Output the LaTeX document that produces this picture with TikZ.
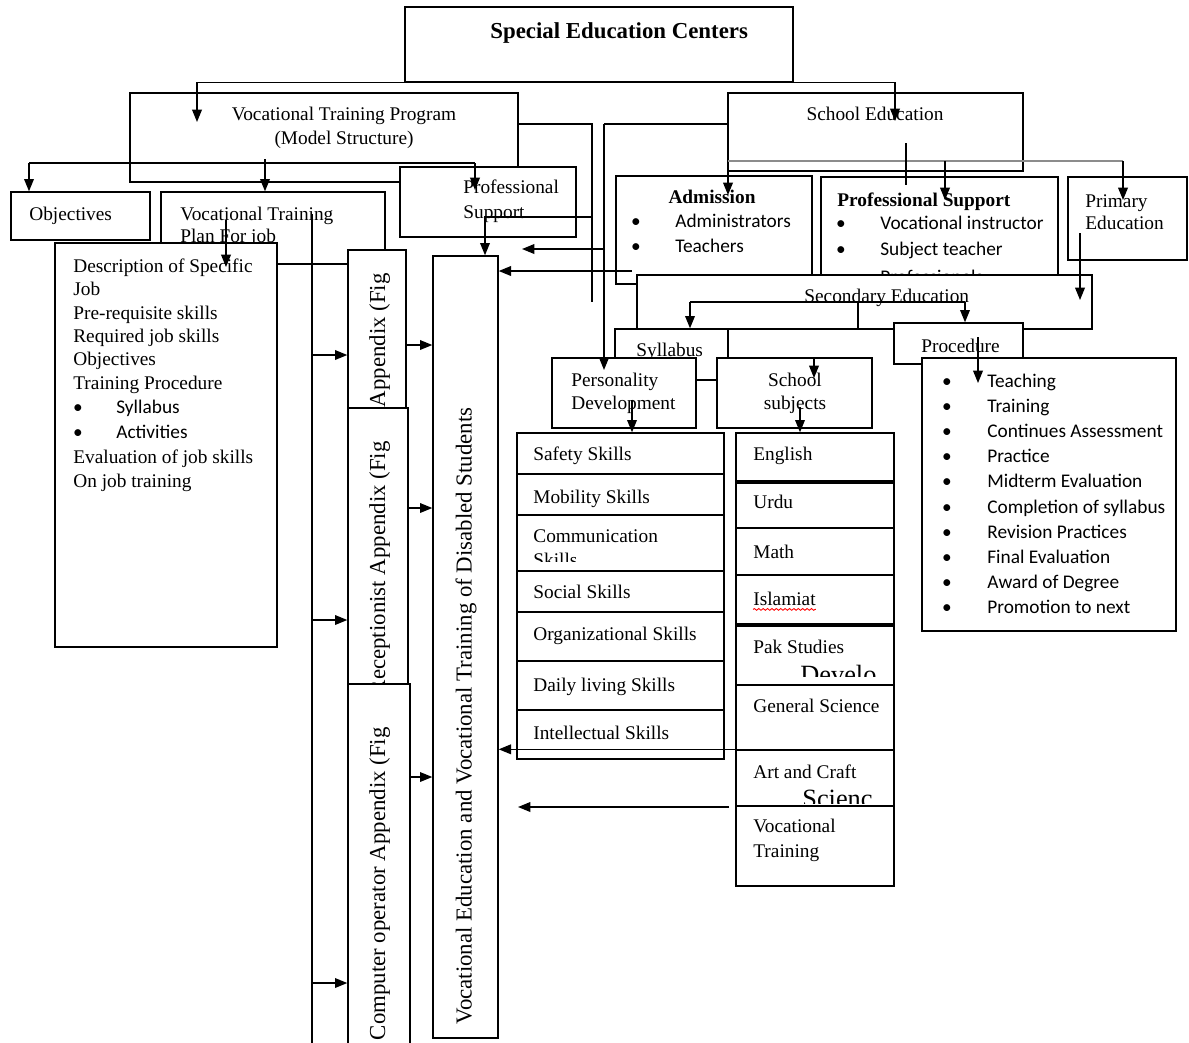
\documentclass[tikz,border=0pt]{standalone}
\usepackage{fontspec}
\setmainfont{Liberation Serif}
\newfontfamily\calibri{Carlito}
\usetikzlibrary{arrows.meta, fit, decorations.pathmorphing}

\tikzset{
  box/.style={draw, fill=white, line width=0.8pt, inner sep=0pt},
  txt/.style={anchor=base west, inner sep=0pt, font=\fontsize{11}{13}\selectfont},
  btxt/.style={txt, font=\fontsize{11}{13}\selectfont\bfseries},
  ctxt/.style={txt, font=\calibri\fontsize{11}{13}\selectfont},
  rtxt/.style={rotate=90, anchor=base east, inner sep=0pt, font=\fontsize{13}{15}\selectfont},
  con/.style={line width=0.8pt},
  arr/.style={con, -{Triangle[length=7pt,width=5.5pt]}},
  bus/.style={line width=1.6pt, black!45}
}

\begin{document}
\begin{tikzpicture}[x=0.02cm, y=-0.02cm]
\useasboundingbox (0,0) rectangle (1189,1042);

% top
\node[box, fit={(405,7) (793,82)}] (sec) {};
\node[btxt, font=\fontsize{13}{15}\selectfont\bfseries] (sec-t) at (490,38) {Special Education Centers};

% vocational training program
\node[box, fit={(130,93) (518,182)}] (vtp) {};
\node[txt, anchor=base] (vtp-t1) at (344,120) {Vocational Training Program};
\node[txt, anchor=base] (vtp-t2) at (344,144) {(Model Structure)};
\node[box, fit={(400,167) (576,237)}] (profl) {};
\node[txt] (profl-t1) at (463,193) {Professional};
\node[txt] (profl-t2) at (463,218) {Support};
\node[box, fit={(11,192) (150,240)}] (obj) {};
\node[txt] (obj-t) at (29,220) {Objectives};
\node[box, fit={(161,192) (385,264)}] (plan) {};
\node[txt] (plan-t1) at (180,220) {Vocational Training};
\node[txt] (plan-t2) at (180,242) {Plan For job};
\node[box, fit={(55,243) (277,647)}] (desc) {};
\foreach \t/\y [count=\i] in {Description of Specific/272, Job/295, Pre-requisite skills/319,
    Required job skills/342, Objectives/365, Training Procedure/389,
    Evaluation of job skills/463, On job training/487}
  \node[txt] (desc-t\i) at (73,\y) {\t};
\foreach \t/\y [count=\i] in {Syllabus/413, Activities/438} {
  \node[ctxt, anchor=base] (desc-b\i) at (78,\y) {\textbullet};
  \node[ctxt] (desc-l\i) at (116,\y) {\t};
}

% appendix boxes
\node[box, fit={(348,250) (406,420)}] (app) {};
\node[rtxt] (app-t) at (385,273) {Appendix (Fig};
\node[box, fit={(348,408) (408,695)}] (recep) {};
\node[rtxt] (recep-t) at (385,441) {Receptionist Appendix (Fig};
\node[box, fit={(348,684) (410,1050)}] (compop) {};
\node[rtxt] (compop-t) at (385,727) {Computer operator Appendix (Fig};
\node[box, fit={(433,256) (498,1038)}] (vocedu) {};
\node[rtxt, anchor=center] (vocedu-t) at (466,716) {Vocational Education and Vocational Training of Disabled Students};

% school education
\node[box, fit={(728,93) (1023,171)}] (school) {};
\node[txt, anchor=base] (school-t) at (875,120) {School Education};
\node[box, fit={(616,176) (812,284)}] (adm) {};
\node[btxt, anchor=base] (adm-t) at (712,203) {Admission};
\foreach \t/\y [count=\i] in {Administrators/227, Teachers/252} {
  \node[ctxt, anchor=base] (adm-b\i) at (636,\y) {\textbullet};
  \node[ctxt] (adm-l\i) at (675,\y) {\t};
}
\node[box, fit={(821,177) (1058,290)}] (profr) {};
\node[btxt] (profr-t) at (837,206) {Professional Support};
\foreach \t/\y [count=\i] in {Vocational instructor/229, Subject teacher/255} {
  \node[ctxt, anchor=base] (profr-b\i) at (841,\y) {\textbullet};
  \node[ctxt] (profr-l\i) at (880,\y) {\t};
}
\begin{scope}
  \clip (821,177) rectangle (1058,275);
  \node[ctxt, anchor=base] (profr-b3) at (841,283) {\textbullet};
  \node[ctxt] (profr-l3) at (880,283) {Professionals};
\end{scope}
\node[box, fit={(1068,177) (1187,260)}] (prim) {};
\node[txt] (prim-t1) at (1085,207) {Primary};
\node[txt] (prim-t2) at (1085,229) {Education};
\node[box, fit={(637,275) (1092,329)}] (second) {};
\node[txt] (second-t) at (804,302) {Secondary Education};
\node[box, fit={(615,329) (728,380)}] (syl) {};
\node[txt] (syl-t) at (636,356) {Syllabus};
\node[box, fit={(894,323) (1023,364)}] (proc) {};
\node[txt] (proc-t) at (921,352) {Procedure};
\node[box, fit={(922,358) (1176,631)}] (proclist) {};
\foreach \t [count=\i] in {Teaching, Training, Continues Assessment, Practice, Midterm Evaluation,
    Completion of syllabus, Revision Practices, Final Evaluation, Award of Degree, Promotion to next} {
  \node[ctxt, anchor=base] (proc-b\i) at (947,{387+25.2*(\i-1)}) {\textbullet};
  \node[ctxt] (proc-l\i) at (987,{387+25.2*(\i-1)}) {\t};
}
\node[box, fit={(552,358) (696,428)}] (pers) {};
\node[txt] (pers-t1) at (571,386) {Personality};
\node[txt] (pers-t2) at (571,409) {Development};
\node[box, fit={(717,358) (872,428)}] (subj) {};
\node[txt, anchor=base] (subj-t1) at (795,386) {School};
\node[txt, anchor=base] (subj-t2) at (795,409) {subjects};

% skills
\foreach \i/\a/\b in {1/433/474, 2/474/515, 3/515/571, 4/571/612, 5/612/661, 6/661/710, 7/710/759}
  \node[box, fit={(517,\a) (724,\b)}] (skill\i) {};
\foreach \t/\y [count=\i] in {Safety Skills/460, Mobility Skills/503, Communication/542, Social Skills/598,
    Organizational Skills/640, Daily living Skills/691, Intellectual Skills/739}
  \node[txt] (skill-t\i) at (533,\y) {\t};
\begin{scope}
  \clip (517,515) rectangle (724,561);
  \node[txt] (skill-t3b) at (533,566) {Skills};
\end{scope}

% subjects
\foreach \i/\a/\b in {1/433/481, 2/483/528, 3/528/575, 4/575/624, 5/626/685, 6/685/750, 7/750/806, 8/806/886}
  \node[box, fit={(736,\a) (894,\b)}] (subject\i) {};
\foreach \t/\y [count=\i] in {English/460, Urdu/508, Math/558, Islamiat/605, Pak Studies/653,
    General Science/712, Art and Craft/778, Vocational/832, Training/857}
  \node[txt] (subject-t\i) at (753,\y) {\t};
\draw[red, line width=0.5pt, decorate, decoration={snake, amplitude=0.5pt, segment length=2.5pt}]
  ([yshift=-2.5pt]subject-t4.base west) -- ([yshift=-2.5pt]subject-t4.base east);
\begin{scope}
  \clip (736,650) rectangle (894,676);
  \node[txt, font=\fontsize{15}{17}\selectfont] (subject-x1) at (800,683) {Develo};
\end{scope}
\begin{scope}
  \clip (736,780) rectangle (894,803);
  \node[txt, font=\fontsize{15}{17}\selectfont] (subject-x2) at (802,807) {Scienc};
\end{scope}

% connectors, left part
\coordinate (vtp-in) at (197,122);
\coordinate (school-in) at (895,121);
\draw[arr] (sec.south west) -| (vtp-in);
\draw[arr] (sec.south east) -| (school-in);

\coordinate (vtp-busl) at (29,163);
\coordinate (vtp-busr) at (475,163);
\coordinate (vtp-mid) at (265,159);
\coordinate (profl-in) at (475,190);
\draw[con] (vtp-busl) -- (vtp-busr);
\draw[arr] (vtp-busl) -- (vtp-busl |- obj.north);
\draw[arr] (vtp-mid) -- (vtp-mid |- plan.north);
\draw[arr] (vtp-busr) -- (profl-in);

\coordinate (vtp-r) at (518,124);
\coordinate (vtp-rd) at (592,302);
\coordinate (profl-j) at (485,217);
\draw[con] (vtp-r) -| (vtp-rd);
\draw[arr] (vtp-rd |- profl-j) -- (profl-j) -- (profl-j |- vocedu.north);

\coordinate (plan-j) at (226,220);
\coordinate (desc-in) at (226,267);
\draw[arr] (plan-j) -- (desc-in);

\coordinate (trunk-t) at (312,214);
\coordinate (trunk-b) at (312,1045);
\draw[con] (trunk-t) -- (trunk-b);
\foreach \b/\y in {app/355, recep/620, compop/983}
  \draw[arr] (trunk-t |- 0,\y) -- (\b.west |- 0,\y);
\foreach \b/\y in {app/345, recep/508, compop/777}
  \draw[arr] (\b.east |- 0,\y) -- (vocedu.west |- 0,\y);

% connectors, right part
\coordinate (school-l) at (604,124);
\coordinate (adm-in) at (728,195);
\coordinate (pers-in) at (604,370);
\draw[arr] (school-l) -| (adm-in);
\draw[arr] (school-l) -- (pers-in);

\coordinate (school-busl) at (728,161);
\coordinate (school-busr) at (1123,161);
\coordinate (profr-in) at (945,200);
\coordinate (prim-in) at (1123,200);
\draw[bus] (school-busl) -- (school-busr);
\draw[arr] (profr-in |- school-busl) -- (profr-in);
\draw[arr] (school-busr) -- (prim-in);
\coordinate (school-st) at (906,143);
\coordinate (school-sb) at (906,185);
\draw[con] (school-st) -- (school-sb);

\coordinate (prim-out) at (1080,233);
\coordinate (second-in) at (1080,300);
\draw[arr] (prim-out) -- (second-in);

\coordinate (second-busl) at (690,302);
\coordinate (second-busr) at (965,302);
\coordinate (second-mid) at (858,302);
\draw[con] (second-busl) -- (second-busr);
\draw[arr] (second-busl) -- (second-busl |- syl.north);
\draw[arr] (second-busr) -- (second-busr |- proc.north);
\draw[con] (second-mid) -- (second-mid |- second.south);

\coordinate (syl-out) at (814,358);
\coordinate (subj-in) at (814,378);
\draw[arr] (syl-out) -- (subj-in);
\coordinate (pers-out) at (632,400);
\draw[arr] (pers-out) -- (pers-out |- skill1.north);
\coordinate (subj-out) at (800,407);
\draw[arr] (subj-out) -- (subj-out |- subject1.north);
\coordinate (proc-out) at (978,337);
\coordinate (proc-in) at (978,383);
\draw[arr] (proc-out) -- (proc-in);

\coordinate (adm-l) at (605,249);
\coordinate (adm-le) at (522,249);
\draw[arr] (adm-l) -- (adm-le);
\coordinate (second-l) at (632,271);
\draw[arr] (second-l) -- (second-l -| vocedu.east);
\draw[arr] (subject7.north west) -- (subject7.north west -| vocedu.east);
\coordinate (subj-l) at (729,807);
\coordinate (subj-le) at (518,807);
\draw[arr] (subj-l) -- (subj-le);
\end{tikzpicture}
\end{document}
